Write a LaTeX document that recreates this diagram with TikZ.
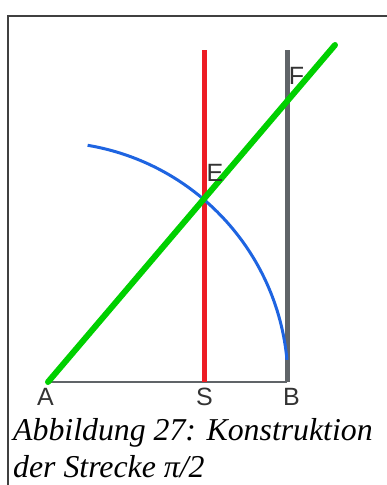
\documentclass[tikz,border=0pt]{standalone}
\usepackage{fontspec}
\setmainfont{Liberation Serif}
\newfontfamily\ptfont{Liberation Sans}
\usepackage{tikz}
\definecolor{segred}{RGB}{237,28,36}
\definecolor{seggreen}{RGB}{0,208,0}
\definecolor{segblue}{RGB}{30,100,225}
\definecolor{seggray}{RGB}{96,100,104}

\begin{document}
\begin{tikzpicture}[x=1pt, y=1pt,
		frame/.style={black!75, line width=1.5pt},
		baseline/.style={seggray, line width=2pt},
		perp/.style={segred, line width=5pt},
		upright/.style={seggray, line width=5pt},
		diag/.style={seggreen, line width=6pt},
		circ/.style={segblue, line width=3pt},
		ptlabel/.style={font=\ptfont\fontsize{25}{25}\selectfont, text=black!80, inner sep=0pt},
		caption/.style={font=\itshape\fontsize{31.8}{36}\selectfont, anchor=base west, inner sep=0pt}]
		
		\useasboundingbox (0,0) rectangle (387,485);
		\draw[frame] (8,0) -- (8,469) -- (387,469);
		
		\coordinate (A) at (48,103);
		\coordinate (S) at (204,103);
		\coordinate (B) at (287,103);
		\coordinate (Stop) at (204,435);
		\coordinate (Btop) at (287,435);
		\coordinate (Gtop) at (335,440);
		
		\draw[baseline] (A) -- (B);
		\draw[perp] (S) -- (Stop);
		\draw[upright] (B) -- (Btop);
		\draw[circ] ([shift={(80.5:240)}]A) arc[start angle=80.5, end angle=5.3, radius=240];
		\draw[diag, line cap=round] (A) -- (Gtop);
		
		\node[ptlabel] (lA) at (45.5,88) {A};
		\node[ptlabel] (lS) at (204.5,88) {S};
		\node[ptlabel] (lB) at (291.5,88) {B};
		\node[ptlabel] (lE) at (215,312.5) {E};
		\node[ptlabel] (lF) at (296.5,409) {F};
		
		\node[caption] (cap1) at (13,44) {Abbildung 27: Konstruktion};
		\node[caption] (cap2) at (13,8) {der Strecke π/2};
		
	\end{tikzpicture}
\end{document}
